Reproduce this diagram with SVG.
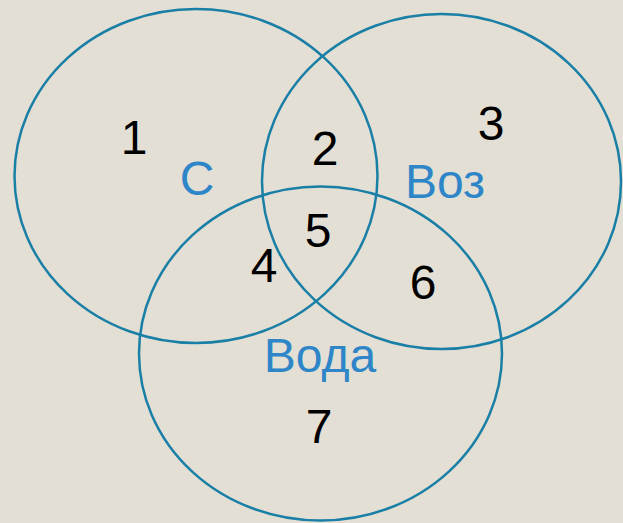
<svg xmlns="http://www.w3.org/2000/svg" width="623" height="523" viewBox="0 0 623 523">
<style>
.c{fill:none;stroke:#1a7fa6;stroke-width:2.5}
.n{font-family:"Liberation Sans",Arial,sans-serif;font-size:48px;fill:#000;text-anchor:middle}
.l{font-family:"Liberation Sans",Arial,sans-serif;font-size:48px;fill:#2e86c8;text-anchor:middle}
</style>
<rect width="623" height="523" fill="#e3dfd4"/>
<g id="set-c">
<ellipse class="c" cx="196" cy="176" rx="181.5" ry="167"/>
<text class="l" x="197" y="195">С</text>
</g>
<g id="set-voz">
<ellipse class="c" cx="441.5" cy="181.5" rx="179.5" ry="167.5"/>
<text class="l" x="445" y="198">Воз</text>
</g>
<g id="set-voda">
<ellipse class="c" cx="320.5" cy="353.5" rx="181.5" ry="167"/>
<text class="l" x="320" y="372">Вода</text>
</g>
<g id="regions">
<text class="n" x="134" y="154">1</text>
<text class="n" x="325" y="165">2</text>
<text class="n" x="491" y="140">3</text>
<text class="n" x="264" y="282">4</text>
<text class="n" x="318" y="247">5</text>
<text class="n" x="423" y="299">6</text>
<text class="n" x="319" y="443">7</text>
</g>
</svg>
